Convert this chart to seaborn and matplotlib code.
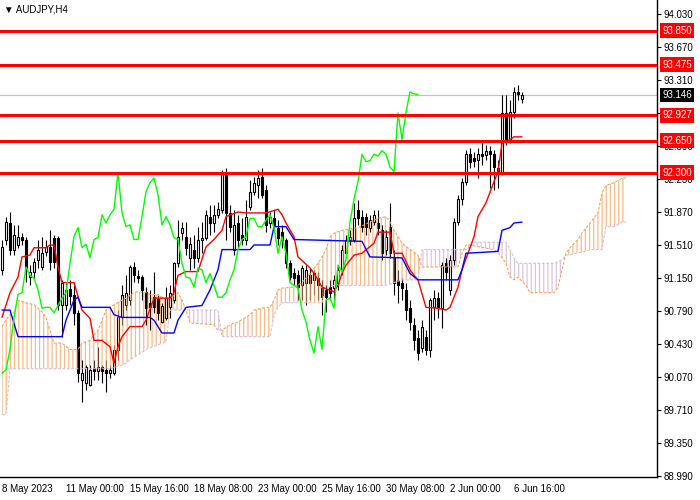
import matplotlib
matplotlib.use("Agg")
import matplotlib.pyplot as plt
import numpy as np
import seaborn as sns

# AUDJPY H4 candles, bar 0 = first visible bar (8 May 2023)
opens = [91.24, 91.57, 91.75, 91.46, 91.51, 91.60, 91.57, 91.16, 91.22, 91.35,
         91.27, 91.43, 91.49, 91.59, 91.59, 90.86, 90.86, 91.03, 90.97, 90.77,
         90.04, 90.00, 89.98, 90.17, 90.13, 90.18, 90.15, 90.11, 90.11, 90.37,
         90.72, 90.86, 90.91, 91.27, 91.17, 91.16, 91.00, 90.88, 90.94, 90.92,
         90.67, 90.71, 90.83, 90.91, 91.31, 91.64, 91.60, 91.37, 91.46, 91.37,
         91.57, 91.59, 91.82, 91.75, 91.84, 91.89, 92.30, 91.86, 91.46, 91.75,
         91.62, 91.57, 91.92, 92.09, 92.16, 92.25, 92.11, 91.75, 91.80, 91.70,
         91.65, 91.57, 91.31, 91.20, 91.18, 91.07, 91.10, 91.18, 91.13, 91.15,
         91.04, 91.02, 91.05, 91.04, 91.10, 91.24, 91.42, 91.57, 91.57, 91.89,
         91.82, 91.82, 91.70, 91.76, 91.75, 91.67, 91.46, 91.71, 91.38, 91.13,
         91.10, 91.02, 90.82, 90.64, 90.50, 90.39, 90.51, 90.37, 90.83, 90.93,
         90.82, 91.31, 91.02, 91.35, 91.76, 92.01, 92.20, 92.50, 92.46, 92.44,
         92.50, 92.49, 92.54, 92.50, 92.35, 92.31, 92.95, 92.66, 92.96, 93.18,
         93.10]
closes = [91.49, 91.76, 91.46, 91.62, 91.60, 91.57, 91.24, 91.22, 91.33, 91.46,
          91.42, 91.49, 91.33, 91.33, 90.86, 91.10, 91.02, 90.95, 90.77, 90.11,
          90.11, 90.18, 90.15, 90.13, 90.18, 90.13, 90.11, 90.15, 90.37, 90.72,
          90.97, 90.99, 91.27, 91.18, 91.15, 91.02, 90.82, 90.83, 90.83, 90.77,
          90.85, 90.93, 90.99, 91.31, 91.60, 91.70, 91.48, 91.52, 91.37, 91.57,
          91.59, 91.84, 91.75, 91.84, 91.90, 92.30, 91.86, 91.71, 91.73, 91.57,
          91.57, 91.82, 92.09, 92.19, 92.24, 92.06, 91.73, 91.82, 91.73, 91.59,
          91.57, 91.31, 91.16, 91.15, 91.05, 91.26, 91.24, 91.10, 91.20, 91.07,
          90.94, 90.94, 90.99, 91.13, 91.24, 91.46, 91.57, 91.60, 91.80, 91.80,
          91.71, 91.71, 91.78, 91.84, 91.70, 91.42, 91.60, 91.42, 91.10, 91.07,
          91.04, 90.80, 90.67, 90.47, 90.33, 90.62, 90.37, 90.91, 90.93, 90.82,
          91.29, 91.22, 91.35, 91.76, 92.01, 92.20, 92.50, 92.42, 92.43, 92.50,
          92.48, 92.54, 92.50, 92.36, 92.31, 92.95, 92.66, 92.96, 93.18, 93.16,
          93.15]
highs = [91.57, 91.82, 91.87, 91.73, 91.73, 91.64, 91.60, 91.29, 91.37, 91.57,
         91.60, 91.57, 91.67, 91.62, 91.61, 91.13, 91.10, 91.13, 91.07, 90.80,
         90.26, 90.20, 90.20, 90.26, 90.40, 90.20, 90.26, 90.20, 90.42, 90.80,
         91.07, 91.18, 91.29, 91.33, 91.24, 91.18, 91.05, 91.02, 91.22, 90.97,
         90.88, 91.05, 91.07, 91.33, 91.78, 91.76, 91.76, 91.60, 91.62, 91.71,
         91.76, 91.89, 91.95, 91.95, 91.98, 92.33, 92.35, 91.95, 91.89, 91.84,
         91.80, 92.00, 92.22, 92.25, 92.33, 92.35, 92.16, 91.87, 91.89, 91.78,
         91.73, 91.59, 91.35, 91.26, 91.24, 91.29, 91.29, 91.26, 91.24, 91.22,
         91.13, 91.07, 91.13, 91.18, 91.29, 91.51, 91.62, 91.67, 91.97, 92.00,
         91.89, 91.86, 91.84, 91.89, 91.89, 91.73, 91.67, 91.97, 91.46, 91.24,
         91.15, 91.10, 90.91, 90.71, 90.58, 90.69, 90.58, 90.93, 91.02, 91.00,
         91.33, 91.37, 91.40, 91.80, 92.06, 92.24, 92.55, 92.57, 92.53, 92.57,
         92.63, 92.60, 92.59, 92.55, 92.44, 93.15, 93.15, 93.09, 93.23, 93.26,
         93.18]
lows = [91.18, 91.51, 91.40, 91.40, 91.48, 91.51, 91.11, 91.07, 91.13, 91.26,
        91.24, 91.39, 91.24, 91.26, 90.80, 90.51, 90.80, 90.86, 90.64, 90.02,
        89.80, 89.93, 89.97, 90.04, 90.04, 90.00, 89.91, 90.06, 90.09, 90.26,
        90.64, 90.80, 90.86, 91.11, 91.10, 90.91, 90.64, 90.58, 90.77, 90.69,
        90.66, 90.69, 90.71, 90.88, 91.27, 91.57, 91.40, 91.24, 91.26, 91.33,
        91.42, 91.57, 91.62, 91.65, 91.80, 91.86, 91.57, 91.65, 91.40, 91.49,
        91.51, 91.51, 91.89, 92.06, 92.02, 92.02, 91.65, 91.70, 91.65, 91.51,
        91.48, 91.26, 91.13, 91.07, 90.91, 90.91, 90.86, 90.91, 90.97, 90.91,
        90.75, 90.78, 90.91, 90.91, 91.02, 91.18, 91.37, 91.51, 91.54, 91.73,
        91.65, 91.62, 91.65, 91.73, 91.62, 91.35, 91.40, 91.37, 90.97, 90.88,
        90.91, 90.69, 90.58, 90.37, 90.26, 90.34, 90.31, 90.29, 90.69, 90.71,
        90.60, 91.13, 90.97, 91.29, 91.73, 91.95, 92.16, 92.35, 92.36, 92.24,
        92.38, 92.44, 92.13, 92.11, 92.13, 92.27, 92.60, 92.62, 92.90, 93.09,
        93.06]

# ichimoku lines (bar index, price)
tenkan_bar = [0, 2, 4, 5, 7, 8, 11, 12, 13, 14, 15, 18, 20, 22, 23, 25, 27, 28, 29, 30,
              32, 35, 36, 38, 42, 43, 44, 46, 49, 51, 53, 55, 56, 59, 61, 66, 69, 70, 71, 73,
              74, 77, 78, 79, 80, 83, 84, 85, 86, 88, 90, 93, 94, 97, 98, 100, 102, 103, 104, 106,
              109, 111, 112, 114, 115, 117, 118, 119, 121, 123, 124, 125, 127, 128, 130]
tenkan = [90.72, 90.99, 91.16, 91.38, 91.40, 91.48, 91.48, 91.51, 91.51, 91.27, 91.10, 91.10, 90.80, 90.71, 90.47, 90.47, 90.40, 90.22, 90.40, 90.51,
          90.62, 90.62, 90.69, 90.93, 90.93, 90.99, 91.18, 91.22, 91.22, 91.49, 91.57, 91.67, 91.82, 91.87, 91.86, 91.86, 91.90, 91.84, 91.75, 91.60,
          91.38, 91.26, 91.20, 91.13, 91.05, 91.00, 91.07, 91.20, 91.29, 91.40, 91.42, 91.53, 91.65, 91.65, 91.42, 91.42, 91.24, 91.18, 91.13, 90.83,
          90.82, 90.80, 90.83, 91.05, 91.24, 91.48, 91.60, 91.82, 91.97, 92.20, 92.31, 92.62, 92.66, 92.69, 92.69]

kijun_bar = [0, 2, 4, 15, 16, 17, 18, 19, 20, 27, 28, 30, 37, 38, 40, 43, 44, 46, 50, 52,
             54, 55, 62, 63, 67, 68, 71, 73, 90, 92, 100, 102, 104, 114, 115, 116, 124, 125, 127, 128, 130]
kijun = [90.80, 90.80, 90.51, 90.51, 90.69, 90.80, 90.91, 90.94, 90.83, 90.83, 90.75, 90.72, 90.72, 90.69, 90.55, 90.55, 90.69, 90.83, 90.85, 91.02,
         91.24, 91.46, 91.46, 91.51, 91.51, 91.71, 91.71, 91.57, 91.55, 91.38, 91.37, 91.20, 91.13, 91.13, 91.24, 91.42, 91.44, 91.67, 91.70, 91.75, 91.76]

cloud_bar = [0, 1, 2, 3, 4, 6, 8, 10, 11, 12, 13, 15, 17, 19, 20, 22, 24, 26, 27, 30,
             31, 33, 34, 36, 37, 39, 40, 41, 42, 44, 45, 46, 47, 53, 54, 55, 57, 59, 62, 63,
             65, 67, 68, 69, 70, 73, 75, 77, 79, 80, 81, 82, 83, 85, 89, 94, 96, 97, 98, 100,
             102, 104, 105, 114, 115, 116, 117, 118, 123, 124, 126, 127, 128, 129, 131, 132, 138, 139, 140, 141,
             142, 144, 145, 147, 149, 150, 151, 153, 155, 156]
span_a = [90.62, 90.69, 90.75, 90.77, 90.91, 90.88, 90.86, 90.78, 90.72, 90.58, 90.44, 90.44, 90.37, 90.37, 90.44, 90.47, 90.58, 90.80, 90.83, 90.91,
          90.93, 90.99, 91.00, 90.99, 90.97, 90.97, 90.94, 90.93, 90.93, 90.99, 90.91, 90.80, 90.66, 90.64, 90.58, 90.58, 90.64, 90.67, 90.75, 90.80,
          90.82, 90.83, 90.91, 91.02, 91.04, 91.05, 91.10, 91.20, 91.31, 91.38, 91.46, 91.60, 91.64, 91.67, 91.70, 91.80, 91.82, 91.76, 91.67, 91.53,
          91.46, 91.40, 91.27, 91.27, 91.42, 91.51, 91.51, 91.50, 91.46, 91.43, 91.31, 91.16, 91.13, 91.16, 91.07, 90.99, 90.99, 91.05, 91.24, 91.42,
          91.48, 91.57, 91.64, 91.75, 91.86, 92.08, 92.16, 92.19, 92.24, 92.24]
span_b = [89.66, 89.66, 90.16, 90.16, 90.16, 90.16, 90.16, 90.16, 90.16, 90.16, 90.16, 90.16, 90.16, 90.16, 90.16, 90.16, 90.16, 90.16, 90.16, 90.20,
          90.22, 90.29, 90.31, 90.37, 90.39, 90.42, 90.44, 90.45, 90.80, 90.80, 90.80, 90.80, 90.80, 90.80, 90.80, 90.51, 90.51, 90.51, 90.51, 90.51,
          90.51, 90.51, 90.75, 90.83, 90.88, 90.88, 90.88, 90.88, 90.88, 90.88, 91.05, 91.05, 91.07, 91.07, 91.07, 91.07, 91.07, 91.08, 91.10, 91.13,
          91.13, 91.13, 91.46, 91.46, 91.46, 91.46, 91.48, 91.54, 91.54, 91.54, 91.54, 91.46, 91.37, 91.31, 91.31, 91.31, 91.31, 91.33, 91.35, 91.40,
          91.40, 91.43, 91.43, 91.46, 91.46, 91.46, 91.71, 91.71, 91.76, 91.76]

levels = [93.850, 93.475, 92.927, 92.650, 92.300]
last_price = 93.146
price_ticks = [94.030, 93.670, 93.310, 92.950, 92.590, 92.230, 91.870, 91.510,
               91.150, 90.790, 90.430, 90.070, 89.710, 89.350, 88.990]
date_bars = [0, 16, 32, 48, 64, 80, 96, 112, 128]
date_labels = ['8 May 2023', '11 May 00:00', '15 May 16:00', '18 May 08:00', '23 May 00:00',
               '25 May 16:00', '30 May 08:00', '2 Jun 00:00', '6 Jun 16:00']

sns.set_style("white")
plt.rcParams['font.family'] = ['Liberation Sans', 'DejaVu Sans']
plt.rcParams['hatch.linewidth'] = 0.9

fig = plt.figure(figsize=(7, 5), dpi=100)
ax = fig.add_axes([0, 23 / 500, 657 / 700, 477 / 500])

bars = np.arange(len(closes))
o = np.array(opens)
c = np.array(closes)
up = c >= o

# candles
ax.vlines(bars, lows, highs, color='black', lw=0.8, zorder=2)
ax.bar(bars[up], np.clip((c - o)[up], 0.012, None), bottom=o[up], width=0.7,
       color='white', edgecolor='black', lw=0.8, zorder=2.1)
ax.bar(bars[~up], np.clip((o - c)[~up], 0.012, None), bottom=c[~up], width=0.7,
       color='black', edgecolor='black', lw=0.8, zorder=2.1)

# kumo
sa = np.array(span_a)
sb = np.array(span_b)
ax.fill_between(cloud_bar, sa, sb, where=sa >= sb, interpolate=True, facecolor='none',
                edgecolor=(0.957, 0.643, 0.376, 0.75), hatch='||||', lw=0, zorder=3)
ax.fill_between(cloud_bar, sa, sb, where=sa < sb, interpolate=True, facecolor='none',
                edgecolor=(0.847, 0.749, 0.847, 0.9), hatch='||||', lw=0, zorder=3)
sns.lineplot(x=cloud_bar, y=span_a, color='#F4A460', linewidth=0.8, linestyle=(0, (2.5, 1.5)),
             ax=ax, legend=False, zorder=3)
sns.lineplot(x=cloud_bar, y=span_b, color='#D8BFD8', linewidth=0.8, linestyle=(0, (2.5, 1.5)),
             ax=ax, legend=False, zorder=3)

# tenkan, kijun, chikou
sns.lineplot(x=tenkan_bar, y=tenkan, color='red', linewidth=1, ax=ax, legend=False, zorder=4)
sns.lineplot(x=kijun_bar, y=kijun, color='blue', linewidth=1, ax=ax, legend=False, zorder=4)
sns.lineplot(x=bars[:len(closes) - 26], y=closes[26:], color='#00FF00', linewidth=1,
             ax=ax, legend=False, zorder=4)

ax.axhline(last_price, color='#C0C0C0', lw=0.8, zorder=1)
for lv in levels:
    ax.axhline(lv, color='red', lw=2.2, zorder=5)

ax.set_xlim(-0.5, 163.75)
ax.set_ylim(88.979, 94.183)
ax.set_xlabel('')
ax.set_ylabel('')
for s in ['left', 'top']:
    ax.spines[s].set_visible(False)
for s in ['right', 'bottom']:
    ax.spines[s].set_color('black')
    ax.spines[s].set_linewidth(1)

# 92.950 sits completely under the 92.927 marker in the terminal, so only its tick shows
ax.yaxis.tick_right()
ax.set_yticks(price_ticks)
ax.set_yticklabels(['' if abs(t - 92.95) < 1e-6 else f'{t:.3f}' for t in price_ticks])
ax.tick_params(axis='y', direction='out', length=3, width=0.8, pad=2, labelsize=7, colors='black')
ax.set_xticks(date_bars)
ax.set_xticklabels(date_labels)
for lbl in ax.get_xticklabels():
    lbl.set_ha('left')
ax.tick_params(axis='x', direction='out', length=3, width=0.8, pad=2, labelsize=7, colors='black')

for lv in levels:
    ax.text(1.008, lv, f'{lv:.3f}', transform=ax.get_yaxis_transform(), ha='left', va='center',
            fontsize=7, color='white', clip_on=False, zorder=10,
            bbox=dict(boxstyle='square,pad=0.25', fc='red', ec='none'))
ax.text(1.008, last_price, f'{last_price:.3f}', transform=ax.get_yaxis_transform(), ha='left',
        va='center', fontsize=7, color='white', clip_on=False, zorder=10,
        bbox=dict(boxstyle='square,pad=0.25', fc='black', ec='none'))

fig.text(4 / 700, 1 - 9 / 500, '▼ AUDJPY,H4', fontsize=7, ha='left', va='center', color='black')

fig.savefig('out.png', dpi=100)
